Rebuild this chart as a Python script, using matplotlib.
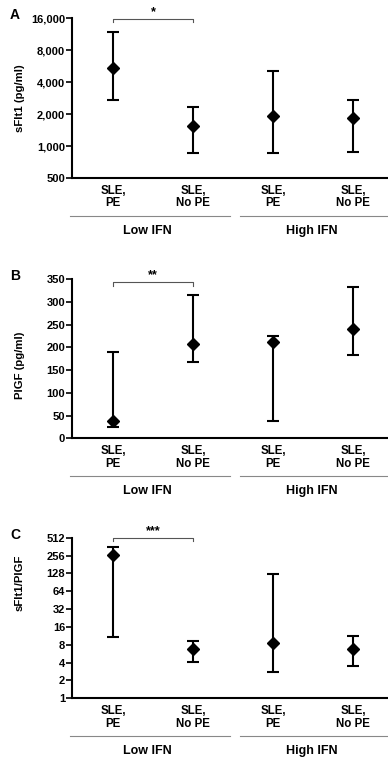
import matplotlib.pyplot as plt
from matplotlib.ticker import FixedLocator, FuncFormatter
import matplotlib.transforms as mtransforms

plt.rcParams['font.family'] = ['Liberation Sans', 'DejaVu Sans']
plt.rcParams['font.weight'] = 'bold'

categories = ["SLE,\nPE", "SLE,\nNo PE", "SLE,\nPE", "SLE,\nNo PE"]
groups = ["Low IFN", "High IFN"]

# panel A: sFlt1 (pg/ml), median with range
sflt_mid = [5460, 1540, 1930, 1820]
sflt_lo = [2710, 865, 865, 883]
sflt_hi = [11900, 2340, 5100, 2710]

# panel B: PlGF (pg/ml)
plgf_mid = [37, 208, 211, 241]
plgf_lo = [24, 169, 39, 183]
plgf_hi = [191, 315, 225, 333]

# panel C: sFlt1/PlGF ratio
ratio_mid = [261, 6.9, 8.5, 6.8]
ratio_lo = [10.9, 4.05, 2.8, 3.55]
ratio_hi = [360, 9.3, 125, 11.2]

panels = [
    ("A", "sFlt1 (pg/ml)", sflt_mid, sflt_lo, sflt_hi, "log", [500, 1000, 2000, 4000, 8000, 16000], (500, 16000), "*", 0.992, 0.5),
    ("B", "PlGF (pg/ml)", plgf_mid, plgf_lo, plgf_hi, "linear", [0, 50, 100, 150, 200, 250, 300, 350], (0, 350), "**", 0.981, 0.46),
    ("C", "sFlt1/PlGF", ratio_mid, ratio_lo, ratio_hi, "log", [1, 2, 4, 8, 16, 32, 64, 128, 256, 512], (1, 512), "***", 0.998, 0.72),
]

fig = plt.figure(figsize=(3.88, 7.62), dpi=100)
H = 762.0
boxes = [(18, 178), (279.3, 438.3), (537.7, 698.3)]
xpos = list(range(len(categories)))

for (letter, ylab, mid, lo, hi, scale, ticks, lim, stars, bry, ly), (top, bot) in zip(panels, boxes):
    ax = fig.add_axes([72 / 388, 1 - bot / H, 1 - 72 / 388, (bot - top) / H])
    yerr = [[m - l for m, l in zip(mid, lo)], [h - m for m, h in zip(mid, hi)]]
    ax.errorbar(xpos, mid, yerr=yerr, fmt='D', color='black', ms=6,
                capsize=4, capthick=1.5, elinewidth=1.5, zorder=3)
    ax.set_yscale(scale)
    ax.set_ylim(*lim)
    ax.yaxis.set_major_locator(FixedLocator(ticks))
    ax.yaxis.set_minor_locator(FixedLocator([]))
    ax.yaxis.set_major_formatter(FuncFormatter(lambda v, p: f"{int(v):,}"))
    ax.set_xlim(-0.5125, 3.4375)
    ax.set_xticks(xpos)
    ax.set_xticklabels(categories, fontsize=8.3, fontweight='bold', linespacing=1.05)
    ax.tick_params(axis='x', length=0, pad=5)
    ax.tick_params(axis='y', length=4, width=1.2, labelsize=8, pad=1)
    for lab in ax.get_yticklabels():
        lab.set_fontweight('bold')
    ax.spines['top'].set_visible(False)
    ax.spines['right'].set_visible(False)
    ax.spines['left'].set_linewidth(1.5)
    ax.spines['bottom'].set_linewidth(1.5)
    ax.set_ylabel(ylab, fontsize=8.2, fontweight='bold')
    ax.yaxis.set_label_coords(-47 / 316, ly)

    # significance bracket
    trb = mtransforms.blended_transform_factory(ax.transData, ax.transAxes)
    ax.plot([0, 0, 1, 1], [bry - 0.02, bry, bry, bry - 0.02], color='#555555',
            lw=0.8, transform=trb, clip_on=False)
    ax.text(0.5, bry + 0.005, stars, transform=trb, ha='center', va='bottom',
            fontsize=9, fontweight='bold')

    # group lines and labels
    off = mtransforms.offset_copy(trb, fig=fig, x=0, y=-38, units='dots')
    ax.plot([-0.54, 1.46], [0, 0], color='#888888', lw=0.8, transform=off, clip_on=False)
    ax.plot([1.59, 3.5], [0, 0], color='#888888', lw=0.8, transform=off, clip_on=False)
    offt = mtransforms.offset_copy(trb, fig=fig, x=0, y=-53, units='dots')
    ax.text(0.43, 0, groups[0], transform=offt, ha='center', va='center', fontsize=9, fontweight='bold')
    ax.text(2.49, 0, groups[1], transform=offt, ha='center', va='center', fontsize=9, fontweight='bold')

    fig.text(15 / 388, 1 - (top - 3) / H, letter, fontsize=10, fontweight='bold', ha='center', va='center')

fig.savefig("out.png", dpi=100)
